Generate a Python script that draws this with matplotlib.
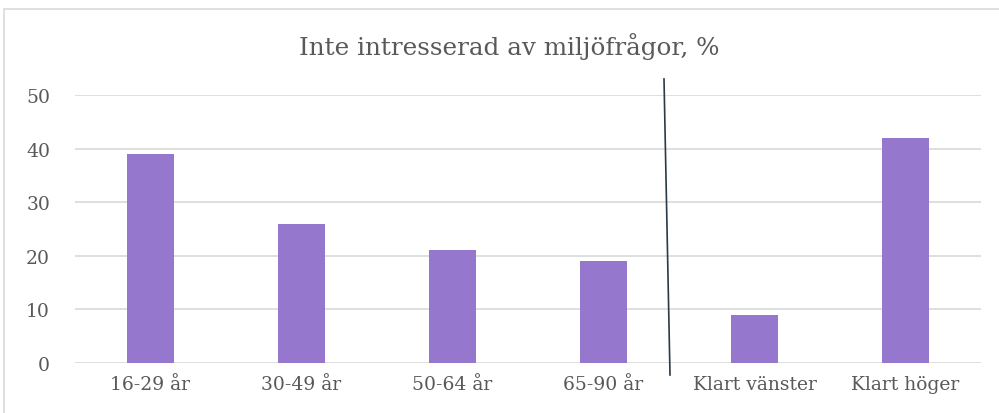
import matplotlib.pyplot as plt
from matplotlib.patches import Rectangle
from matplotlib.lines import Line2D

# Data
categories = ['16-29 år', '30-49 år', '50-64 år', '65-90 år', 'Klart vänster', 'Klart höger']
values = [39, 26, 21, 19, 9, 42]
yticks = [0, 10, 20, 30, 40, 50]

plt.rcParams['font.family'] = ['DejaVu Serif']

fig = plt.figure(figsize=(9.99, 4.14), dpi=100)

# chart frame (right and bottom edges fall outside the image)
fig.patches.append(Rectangle((4 / 999, -0.05), 1.1, 1 - 10 / 414 + 0.05,
                             transform=fig.transFigure, fill=False,
                             edgecolor='#d9d9d9', linewidth=1.2))

ax = fig.add_axes([75 / 999, 1 - 364 / 414, 906 / 999, (364 - 96) / 414])
x = range(len(categories))
ax.bar(x, values, width=0.31, color='#9677ce', zorder=3)

ax.set_xlim(-0.5, len(categories) - 0.5)
ax.set_ylim(0, 50)
ax.set_yticks(yticks)
ax.set_xticks(list(x))
ax.set_xticklabels(categories)
ax.grid(axis='y', color='#d9d9d9', linewidth=1.2, zorder=0)
for s in ax.spines.values():
    s.set_visible(False)
ax.tick_params(length=0, labelsize=13.5, colors='#595959', pad=9)
ax.tick_params(axis='y', pad=18)

fig.text(509 / 999, 1 - 47 / 414, 'Inte intresserad av miljöfrågor, %',
         ha='center', va='center', fontsize=17.7, color='#595959')

# divider between age groups and political position
fig.lines.append(Line2D([664 / 999, 670 / 999], [1 - 80 / 414, 1 - 376 / 414],
                        transform=fig.transFigure, color='#2b3a44', linewidth=1.2))

fig.savefig('out.png', dpi=100)
